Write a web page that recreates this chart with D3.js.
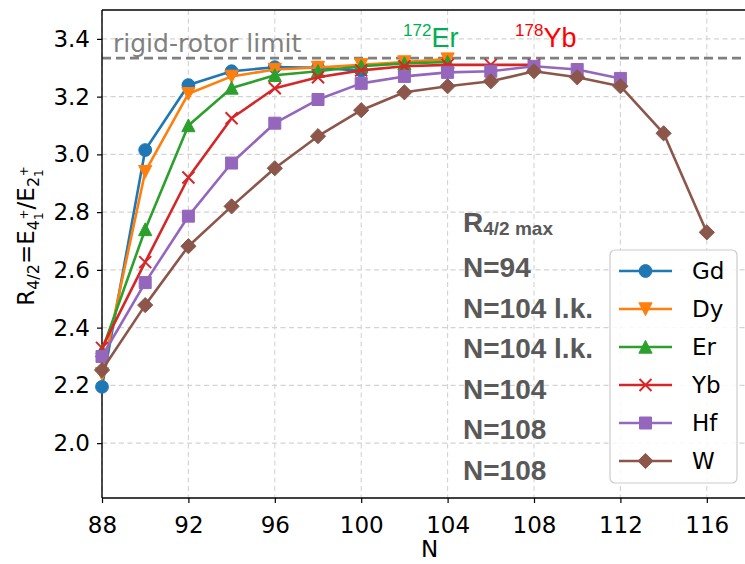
<!DOCTYPE html>
<html>
<head>
<meta charset="utf-8">
<script src="https://cdn.jsdelivr.net/npm/d3@7"></script>
<style>
  body { margin: 0; background: #fff; }
  svg { display: block; }
</style>
</head>
<body>
<svg id="chart" width="745" height="564"></svg>
<script>
// Neutron numbers shared by every isotope chain (each chain starts at N = 88)
const neutronNumbers = [88, 90, 92, 94, 96, 98, 100, 102, 104, 106, 108, 110, 112, 114, 116];

// R4/2 = E(4+1)/E(2+1) for each element
const gdValues = [2.195, 3.015, 3.24, 3.288, 3.302, 3.300, 3.29];
const dyValues = [2.24, 2.94, 3.21, 3.27, 3.294, 3.301, 3.31, 3.32, 3.33];
const erValues = [2.32, 2.74, 3.10, 3.23, 3.274, 3.288, 3.305, 3.315, 3.32];
const ybValues = [2.33, 2.627, 2.92, 3.125, 3.229, 3.267, 3.291, 3.305, 3.31, 3.31, 3.31];
const hfValues = [2.30, 2.556, 2.786, 2.97, 3.108, 3.19, 3.246, 3.27, 3.284, 3.288, 3.305, 3.294, 3.263];
const wValues  = [2.253, 2.478, 2.682, 2.82, 2.952, 3.063, 3.153, 3.215, 3.236, 3.253, 3.288, 3.267, 3.236, 3.073, 2.73];

const elementNames = ["Gd", "Dy", "Er", "Yb", "Hf", "W"];
const elementValues = [gdValues, dyValues, erValues, ybValues, hfValues, wValues];
const elementColors = ["#1f77b4", "#ff7f0e", "#2ca02c", "#d62728", "#9467bd", "#8c564b"];
const elementMarkers = ["circle", "triangleDown", "triangleUp", "cross", "square", "diamond"];

// Neutron number where R4/2 peaks, one line per element
const maxLabels = ["N=94", "N=104 l.k.", "N=104 l.k.", "N=104", "N=108", "N=108"];

const xTicks = [88, 92, 96, 100, 104, 108, 112, 116];
const yTicks = [2.0, 2.2, 2.4, 2.6, 2.8, 3.0, 3.2, 3.4];
const rigidRotorLimit = 10 / 3;

const svg = d3.select("#chart");
const plot = { left: 102, right: 750, top: 10, bottom: 498 };

const x = d3.scaleLinear().domain([88, 118]).range([plot.left, plot.right]);
const y = d3.scaleLinear().domain([1.81, 3.5]).range([plot.bottom, plot.top]);

const tickFont = "DejaVu Sans, sans-serif";

// Grid
const grid = svg.append("g").attr("stroke", "#d3d3d3").attr("stroke-width", 1.1)
  .attr("stroke-dasharray", "5,3.5");
grid.selectAll(".gx").data(xTicks).join("line")
  .attr("x1", d => x(d)).attr("x2", d => x(d))
  .attr("y1", plot.top).attr("y2", plot.bottom);
grid.selectAll(".gy").data(yTicks).join("line")
  .attr("x1", plot.left).attr("x2", plot.right)
  .attr("y1", d => y(d)).attr("y2", d => y(d));

// Rigid-rotor limit
svg.append("line")
  .attr("x1", plot.left).attr("x2", plot.right)
  .attr("y1", y(rigidRotorLimit)).attr("y2", y(rigidRotorLimit))
  .attr("stroke", "#808080").attr("stroke-width", 2.6)
  .attr("stroke-dasharray", "9,5");

svg.append("text")
  .attr("x", 113).attr("y", 52)
  .attr("font-family", tickFont)
  .attr("font-size", 25)
  .attr("fill", "#808080")
  .text("rigid-rotor limit");

// Axes
const xAxis = d3.axisBottom(x).tickValues(xTicks).tickSize(5).tickPadding(8).tickFormat(d3.format("d"));
const yAxis = d3.axisLeft(y).tickValues(yTicks).tickSize(5).tickPadding(7).tickFormat(d3.format(".1f"));

const gx = svg.append("g").attr("transform", `translate(0,${plot.bottom})`).call(xAxis);
const gy = svg.append("g").attr("transform", `translate(${plot.left},0)`).call(yAxis);
[gx, gy].forEach(g => {
  g.select(".domain").remove();
  g.selectAll(".tick line").attr("stroke", "#000").attr("stroke-width", 1.2);
  g.selectAll(".tick text").attr("font-family", tickFont).attr("font-size", 23).attr("fill", "#000");
});
gx.selectAll(".tick text").attr("dy", "0.95em");

// Spines
const spines = svg.append("g").attr("stroke", "#000").attr("stroke-width", 1.4).attr("fill", "none");
spines.append("line").attr("x1", plot.left).attr("x2", plot.left).attr("y1", plot.top).attr("y2", plot.bottom);
spines.append("line").attr("x1", plot.left).attr("x2", plot.right).attr("y1", plot.bottom).attr("y2", plot.bottom);
spines.append("line").attr("x1", plot.left).attr("x2", plot.right).attr("y1", plot.top).attr("y2", plot.top);
spines.append("line").attr("x1", plot.right).attr("x2", plot.right).attr("y1", plot.top).attr("y2", plot.bottom);

// Axis titles
svg.append("text")
  .attr("x", (plot.left + 745) / 2 + 6).attr("y", 557)
  .attr("text-anchor", "middle")
  .attr("font-family", tickFont).attr("font-size", 23)
  .text("N");

const yl = svg.append("text")
  .attr("transform", "translate(34,236) rotate(-90)")
  .attr("text-anchor", "middle")
  .attr("font-family", tickFont).attr("font-size", 23);
yl.append("tspan").text("R");
yl.append("tspan").attr("font-size", 16).attr("dy", 5).text("4/2");
yl.append("tspan").attr("dy", -5).text("=E");
yl.append("tspan").attr("font-size", 16).attr("dy", 5).text("4");
yl.append("tspan").attr("font-size", 12).attr("dy", 4).text("1");
yl.append("tspan").attr("font-size", 12).attr("dx", -7).attr("dy", -15).text("+");
yl.append("tspan").attr("dy", 6).text("/E");
yl.append("tspan").attr("font-size", 16).attr("dy", 5).text("2");
yl.append("tspan").attr("font-size", 12).attr("dy", 4).text("1");
yl.append("tspan").attr("font-size", 12).attr("dx", -7).attr("dy", -15).text("+");

// Marker shapes
function markerPath(kind) {
  switch (kind) {
    case "circle": return "M6.4,0A6.4,6.4 0 1,1 -6.4,0A6.4,6.4 0 1,1 6.4,0Z";
    case "triangleDown": return "M-6.6,-6.2L6.6,-6.2L0,6.6Z";
    case "triangleUp": return "M-6.6,6.2L6.6,6.2L0,-6.6Z";
    case "square": return "M-6,-6L6,-6L6,6L-6,6Z";
    case "diamond": return "M0,-7.6L7.6,0L0,7.6L-7.6,0Z";
    case "cross": return "M-6,-6L6,6M-6,6L6,-6";
  }
}

function drawMarker(sel, kind, color) {
  const p = sel.append("path").attr("d", markerPath(kind));
  if (kind === "cross") {
    p.attr("fill", "none").attr("stroke", color).attr("stroke-width", 2);
  } else {
    p.attr("fill", color).attr("stroke", color).attr("stroke-width", 1);
  }
}

// Series
const line = d3.line().x(d => x(d.n)).y(d => y(d.r));
elementNames.forEach((name, i) => {
  const pts = elementValues[i].map((r, j) => ({ n: neutronNumbers[j], r }));
  const g = svg.append("g");
  g.append("path").datum(pts)
    .attr("d", line)
    .attr("fill", "none")
    .attr("stroke", elementColors[i])
    .attr("stroke-width", 2.6)
    .attr("stroke-linejoin", "round");
  pts.forEach(p => {
    const m = g.append("g").attr("transform", `translate(${x(p.n)},${y(p.r)})`);
    drawMarker(m, elementMarkers[i], elementColors[i]);
  });
});

// Isotope labels at the maxima
const isoFont = "Liberation Sans, Arial, sans-serif";
const er = svg.append("text").attr("x", 403).attr("y", 47)
  .attr("font-family", isoFont).attr("fill", "#00b050");
er.append("tspan").attr("font-size", 17).attr("dy", -11).text("172");
er.append("tspan").attr("font-size", 27).attr("dy", 11).text("Er");

const yb = svg.append("text").attr("x", 515).attr("y", 47)
  .attr("font-family", isoFont).attr("fill", "#ff0000");
yb.append("tspan").attr("font-size", 17).attr("dy", -11).text("178");
yb.append("tspan").attr("font-size", 27).attr("dy", 11).text("Yb");

// R4/2 max annotation block
const ann = svg.append("g").attr("font-family", isoFont).attr("font-weight", "bold").attr("fill", "#595959");
const head = ann.append("text").attr("x", 463).attr("y", 232).attr("font-size", 28);
head.append("tspan").text("R");
head.append("tspan").attr("font-size", 19).attr("dy", 3).text("4/2 max");
ann.selectAll(".mx").data(maxLabels).join("text")
  .attr("x", 463)
  .attr("y", (d, i) => 277 + i * 40.6)
  .attr("font-size", 28)
  .text(d => d);

// Legend
const legend = svg.append("g").attr("transform", "translate(610,250)");
legend.append("rect")
  .attr("width", 127).attr("height", 233).attr("rx", 5)
  .attr("fill", "#fff").attr("fill-opacity", 0.85)
  .attr("stroke", "#cccccc").attr("stroke-width", 1.2);
elementNames.forEach((name, i) => {
  const row = legend.append("g").attr("transform", `translate(0,${21 + i * 38})`);
  row.append("line").attr("x1", 9).attr("x2", 62)
    .attr("stroke", elementColors[i]).attr("stroke-width", 2.6);
  const m = row.append("g").attr("transform", "translate(35.5,0)");
  drawMarker(m, elementMarkers[i], elementColors[i]);
  row.append("text").attr("x", 82).attr("dy", "0.36em")
    .attr("font-family", tickFont).attr("font-size", 23)
    .text(name);
});
</script>
</body>
</html>
